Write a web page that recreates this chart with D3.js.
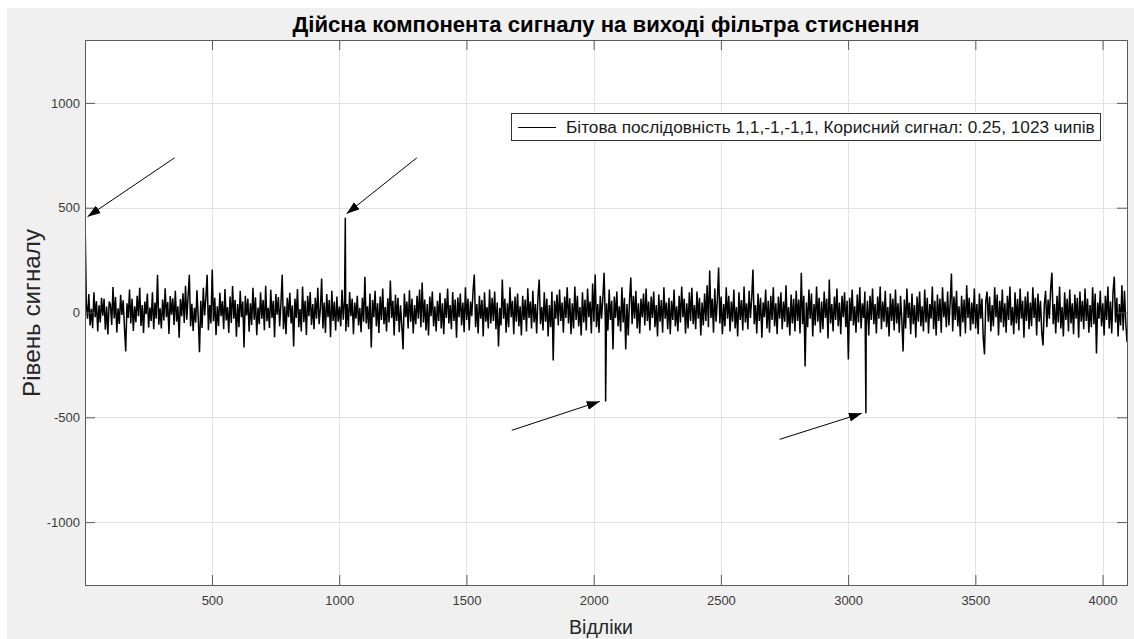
<!DOCTYPE html>
<html>
<head>
<meta charset="utf-8">
<script src="https://cdn.jsdelivr.net/npm/d3@7"></script>
<style>
  html, body { margin: 0; padding: 0; background: #ffffff; }
  svg { display: block; }
  text { font-family: "Liberation Sans", Arial, Helvetica, sans-serif; }
</style>
</head>
<body>
<svg id="chart" width="1134" height="639"></svg>
<script>
// Real part of the compressed-filter output: noise samples every 5th index
const sampleStart = 1;
const sampleStep = 5;
const noise = [
  0, 45, -30, 88, -62, 18, -75, 96, -22, 54, -90, 35, -48, 70, -15, 66, -82, 28, -105, 52,
  38, -60, 122, -28, 74, -95, 20, -55, 84, -12, 58, -70, -186, 44, -26, 110, -52, 66, -88, 30,
  -46, 80, -18, 118, -64, 36, -98, 52, -8, 90, -72, 24, -40, 96, -80, 48, -30, 180, -58, 20,
  -76, 62, -38, 115, -22, 50, -102, 78, -10, 68, -60, 104, -44, 30, -120, 64, -18, 92, -50, 128,
  -34, 74, 180, -66, 42, -88, 22, -48, 106, -26, -190, 56, -74, 118, -14, 68, 180, -84, 36, -52,
  205, -42, 70, -108, 30, -64, 94, -18, 54, -80, 112, -38, 26, -98, 76, -50, 126, -30, 60, -115,
  40, -70, 104, -22, 52, -167, 80, -14, 66, -92, 44, -60, 118, -34, 72, -108, 24, -56, 96, -30,
  60, -84, 128, -42, 22, -74, 108, -26, 56, -118, 88, -10, 74, -66, 44, 180, -80, 30, -104, 70,
  -22, 94, -52, 34, -162, 66, -26, 112, -70, 16, -90, 124, -46, 56, -108, 80, -18, 98, -60, 40,
  -80, 70, -30, 118, -56, 18, 162, -76, 48, -98, 88, -22, 60, -118, 104, -40, 52, -86, 76, -44,
  28, -66, 108, -34, 56, -90, 40, -70, 98, -18, 66, -104, 48, -30, 80, -62, 22, -94, 70, -44,
  171, -52, 30, -80, 90, -167, 60, -22, 104, -66, 44, -98, 76, -36, 114, -56, 26, -90, 68, -48,
  152, -26, 56, -110, 84, -40, 70, -94, 34, -62, -176, 90, -22, 52, -76, 106, -44, 66, -100, 36,
  -56, 80, -30, 110, -70, 143, -48, 62, -86, 40, -110, 76, -18, 100, -66, 30, -90, 56, -40, 94,
  -76, 44, -104, 68, -26, 114, -52, 36, -80, 98, -40, 62, -120, 72, -22, 90, -62, 48, -94, 120,
  -36, 66, -86, 52, -18, 104, 181, -70, 40, -100, 80, -30, 60, -114, 96, -44, 26, -76, 110, -52,
  70, -40, 100, -80, 48, -162, 22, -62, 157, -30, 66, -96, 44, -70, 120, -22, 56, -104, 76, -44,
  90, -66, 30, -110, 80, -36, 62, -90, 116, -26, 52, -76, 104, -48, 40, -100, 70, 157, -56, 26,
  -86, 96, -44, 66, -114, 36, -70, 100, -229, 56, -30, 86, -62, 110, -40, 48, -96, 76, -26, 120,
  -52, 68, -104, 44, -76, 124, -36, 80, -66, 26, -110, 96, -48, 62, -86, 114, -22, 52, -100, 138,
  -44, 181, -70, 40, -96, 80, -30, 66, 190, -52, 44, -86, 110, -36, 56, -176, 76, -26, 100, -66,
  30, -90, 120, -48, 70, -176, 40, -110, 60, 167, -56, 80, -30, 104, -76, 44, -100, 66, -22, 90,
  -62, 114, -40, 52, -86, 76, -26, 100, -70, 36, -114, 86, -44, 60, -96, 120, -30, 48, -80, 70,
  -104, 56, -36, 110, -66, 30, -90, 80, -48, 124, -22, 66, -100, 44, -76, 96, -40, 118, -56, 36,
  -80, 100, -30, 70, -110, 48, -62, 90, -40, 130, -70, 200, -26, 66, -96, 114, -44, 56, 214, -52,
  76, -104, 40, -66, 120, -30, 80, -90, 52, -44, 110, -76, 26, -114, 96, -36, 60, -86, 124, -48,
  44, -80, 104, -26, 66, 205, -56, 36, -100, 90, -40, 70, -120, 48, -22, 110, -76, 56, -96, 80,
  -36, 120, -66, 44, -104, 76, -30, 96, -80, 52, -44, 130, -70, 26, -110, 86, -52, 66, -90, 104,
  -40, 62, -100, 190, -56, 80, -257, 48, -70, 110, -30, 90, -114, 40, -62, 124, -44, 70, -96, 52,
  -80, 100, -26, 66, -124, 157, -52, 40, -90, 76, -36, 114, -66, 48, -104, 80, -22, 96, -70, 56,
  -224, 70, -40, 110, -62, 30, -96, 86, -48, 120, -76, 44, -26, 100, -66, 56, -110, 80, -36, 114,
  -56, 40, -100, 76, -30, 124, -80, 52, -44, 104, -70, 26, -114, 90, -40, 66, -86, 110, -52, 44,
  -96, 80, -36, -186, 62, -76, 114, -26, 48, -104, 90, -56, 36, -120, 76, -44, 100, -66, 30, -90,
  110, -48, 70, -100, 40, -30, 124, -80, 56, -110, 86, -40, 66, -96, 120, -22, 52, -70, 100, -62,
  44, 186, -90, 76, -36, 104, -66, 30, -114, 80, -48, 62, -100, 130, -26, 70, -86, 48, -56, 114,
  -76, 40, -104, 90, -30, 66, -120, -200, 52, 100, -44, 76, -90, 36, -66, 120, -22, 86, -110, 56,
  -48, 110, -70, 44, -96, 80, -36, 124, -62, 26, -104, 96, -52, 66, -86, 114, -30, 56, -120, 76,
  -40, 100, -80, 48, -66, 120, -26, 70, -110, 90, -44, 56, -96, -157, 36, 104, -70, 62, -30, 114,
  190, -56, 40, -100, 80, -48, 124, -76, 26, -114, 96, -36, 66, -90, 110, -52, 44, -104, 86, -30,
  70, -120, 100, -44, 56, -80, 114, -40, 66, -96, 36, -70, 120, -56, 90, -195, 48, -30, 104, -66,
  44, -110, 80, -36, 124, -76, 52, -100, 96, 171, -48, 70, -114, 40, -62, 130, -86, 104, -44, -140
];

// Correlation peaks, one per bit boundary (bits 1,1,-1,-1)
const peakIndex = [1, 1024, 2047, 3070];
const peakValue = [467, 452, -424, -481];

// Annotation arrows (tail -> head) in data units
const arrowTailX = [353, 1305, 1678, 2731];
const arrowTailY = [738, 738, -562, -605];
const arrowHeadX = [11, 1029, 2024, 3054];
const arrowHeadY = [457, 471, -424, -481];

const xTicks = [500, 1000, 1500, 2000, 2500, 3000, 3500, 4000];
const yTicks = [-1000, -500, 0, 500, 1000];
const xDomain = [1, 4096];
const yDomain = [-1300, 1300];

const titleText = "Дійсна компонента сигналу на виході фільтра стиснення";
const xLabelText = "Відліки";
const yLabelText = "Рівень сигналу";
const legendText = "Бітова послідовність 1,1,-1,-1,1, Корисний сигнал: 0.25, 1023 чипів";

// Merge noise samples and peaks into one ordered series
const series = noise.map((v, i) => ({ x: sampleStart + i * sampleStep, y: v }));
peakIndex.forEach((px, k) => {
  const hit = series.find(d => d.x === px);
  if (hit) hit.y = peakValue[k];
  else series.push({ x: px, y: peakValue[k] });
});
series.sort((a, b) => a.x - b.x);

const svg = d3.select("#chart");
const W = 1134, H = 639;
const box = { left: 85, top: 40, right: 1127, bottom: 585 };

// Figure background
svg.append("rect").attr("x", 7).attr("y", 8).attr("width", W - 7).attr("height", H - 8)
  .attr("fill", "#f0f0f0");

const x = d3.scaleLinear().domain(xDomain).range([box.left, box.right]);
const y = d3.scaleLinear().domain(yDomain).range([box.bottom, box.top]);

// Axes area
svg.append("rect").attr("x", box.left).attr("y", box.top)
  .attr("width", box.right - box.left).attr("height", box.bottom - box.top)
  .attr("fill", "#ffffff");

// Grid
const grid = svg.append("g").attr("stroke", "#e3e3e3").attr("stroke-width", 1);
grid.selectAll(".gx").data(xTicks).join("line")
  .attr("x1", d => Math.round(x(d)) + 0.5).attr("x2", d => Math.round(x(d)) + 0.5)
  .attr("y1", box.top).attr("y2", box.bottom);
grid.selectAll(".gy").data(yTicks).join("line")
  .attr("y1", d => Math.round(y(d)) + 0.5).attr("y2", d => Math.round(y(d)) + 0.5)
  .attr("x1", box.left).attr("x2", box.right);

// Signal
svg.append("clipPath").attr("id", "clip").append("rect")
  .attr("x", box.left).attr("y", box.top)
  .attr("width", box.right - box.left).attr("height", box.bottom - box.top);

const line = d3.line().x(d => x(d.x)).y(d => y(d.y));
svg.append("path").datum(series)
  .attr("clip-path", "url(#clip)")
  .attr("fill", "none").attr("stroke", "#000").attr("stroke-width", 1.5)
  .attr("stroke-linejoin", "bevel")
  .attr("d", line);

// Axes with inward ticks, box on
const axisColor = "#5a5a5a";
const tickLen = 10;
const plain = d => String(d);
const axBottom = svg.append("g").attr("transform", `translate(0,${box.bottom})`)
  .call(d3.axisBottom(x).tickValues(xTicks).tickSize(-tickLen).tickPadding(11).tickFormat(plain));
const axTop = svg.append("g").attr("transform", `translate(0,${box.top})`)
  .call(d3.axisTop(x).tickValues(xTicks).tickSize(-tickLen).tickFormat(""));
const axLeft = svg.append("g").attr("transform", `translate(${box.left},0)`)
  .call(d3.axisLeft(y).tickValues(yTicks).tickSize(-tickLen).tickPadding(5).tickFormat(plain));
const axRight = svg.append("g").attr("transform", `translate(${box.right},0)`)
  .call(d3.axisRight(y).tickValues(yTicks).tickSize(-tickLen).tickFormat(""));

[axBottom, axTop, axLeft, axRight].forEach(g => {
  g.select(".domain").attr("stroke", axisColor);
  g.selectAll(".tick line").attr("stroke", axisColor);
  g.selectAll(".tick text").attr("fill", "#3a3a3a")
    .style("font-family", '"Liberation Sans", Arial, sans-serif').style("font-size", "13px");
});

// Arrows
const defs = svg.append("defs");
defs.append("marker").attr("id", "head")
  .attr("viewBox", "0 0 13 9").attr("refX", 13).attr("refY", 4.5)
  .attr("markerWidth", 13).attr("markerHeight", 9).attr("markerUnits", "userSpaceOnUse")
  .attr("orient", "auto")
  .append("path").attr("d", "M0,0 L13,4.5 L0,9 Z").attr("fill", "#000");

svg.append("g").selectAll("line").data(arrowTailX).join("line")
  .attr("x1", (d, i) => x(arrowTailX[i])).attr("y1", (d, i) => y(arrowTailY[i]))
  .attr("x2", (d, i) => x(arrowHeadX[i])).attr("y2", (d, i) => y(arrowHeadY[i]))
  .attr("stroke", "#000").attr("stroke-width", 1)
  .attr("marker-end", "url(#head)");

// Legend
const lg = svg.append("g");
lg.append("rect").attr("x", 511.5).attr("y", 113.5).attr("width", 589).attr("height", 27)
  .attr("fill", "#fff").attr("stroke", "#333").attr("stroke-width", 1);
lg.append("line").attr("x1", 518).attr("x2", 556).attr("y1", 127.5).attr("y2", 127.5)
  .attr("stroke", "#000").attr("stroke-width", 1);
const lt = lg.append("text").attr("x", 566).attr("y", 132.5)
  .attr("fill", "#1a1a1a").style("font-size", "14px").text(legendText);

// Fit helper: scale font so the text spans a target width
function fitWidth(sel, target, base) {
  const w = sel.node().getComputedTextLength();
  sel.style("font-size", (base * target / w).toFixed(2) + "px");
}
fitWidth(lt, 529, 14);

// Title
const tt = svg.append("text").attr("x", (box.left + box.right) / 2).attr("y", 32)
  .attr("text-anchor", "middle").attr("font-weight", "bold").attr("fill", "#000")
  .style("font-size", "17px").text(titleText);
fitWidth(tt, 627, 17);

// Axis labels
const xl = svg.append("text").attr("x", 601).attr("y", 634)
  .attr("text-anchor", "middle").attr("fill", "#262626")
  .style("font-size", "15px").text(xLabelText);
fitWidth(xl, 64, 15);
const yl = svg.append("text").attr("transform", `translate(40,${313}) rotate(-90)`)
  .attr("text-anchor", "middle").attr("fill", "#262626")
  .style("font-size", "17px").text(yLabelText);
fitWidth(yl, 168, 17);
</script>
</body>
</html>
